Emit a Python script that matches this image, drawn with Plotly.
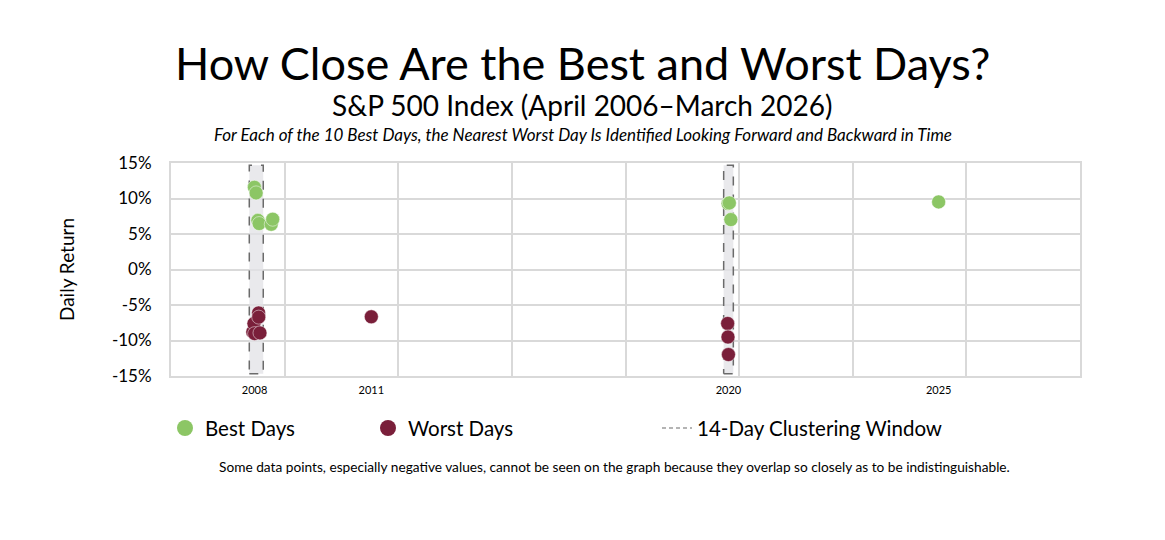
import plotly.graph_objects as go

# ---- data ----
best_dates = ["2008-10-13", "2008-10-28", "2008-11-13", "2008-11-24", "2009-03-10",
              "2009-03-23", "2020-03-13", "2020-03-24", "2020-04-06", "2025-04-09"]
best_returns = [11.58, 10.79, 6.92, 6.47, 6.37, 7.08, 9.29, 9.38, 7.03, 9.52]

worst_dates = ["2008-09-29", "2008-10-09", "2008-10-15", "2008-11-19", "2008-11-20",
               "2008-12-01", "2011-08-08", "2020-03-09", "2020-03-12", "2020-03-16"]
worst_returns = [-8.79, -7.62, -9.03, -6.12, -6.71, -8.93, -6.66, -7.60, -9.51, -11.98]

window_start = ["2008-08-29", "2020-02-03"]
window_end = ["2008-12-30", "2020-04-28"]
window_low = -14.7
window_high = 14.7

tick_dates = ["2008-10-15", "2011-08-08", "2020-03-16", "2025-04-09"]
tick_labels = ["2008", "2011", "2020", "2025"]

x_range = ["2006-10-10", "2028-09-04"]
y_ticks = [-15, -10, -5, 0, 5, 10, 15]
y_tick_labels = ["-15%", "-10%", "-5%", "0%", "5%", "10%", "15%"]

GREEN = "#8cc665"
MAROON = "#7a1f3a"
GRID = "#d9d9d9"
DASH = "#6b6b6b"
FONT = "Lato"

fig = go.Figure()

# clustering windows
for s, e in zip(window_start, window_end):
    fig.add_trace(go.Scatter(
        x=[s, e, e, s, s], y=[window_low, window_low, window_high, window_high, window_low],
        mode="lines", fill="toself", fillcolor="rgba(225,226,230,0.75)",
        line=dict(color=DASH, width=1.5, dash="dash"),
        showlegend=False, hoverinfo="skip"))

fig.add_trace(go.Scatter(
    x=best_dates, y=best_returns, mode="markers", name="Best Days", showlegend=False,
    marker=dict(color=GREEN, size=14, line=dict(color="rgba(255,255,255,0.6)", width=0.8))))
fig.add_trace(go.Scatter(
    x=worst_dates, y=worst_returns, mode="markers", name="Worst Days", showlegend=False,
    marker=dict(color=MAROON, size=14, line=dict(color="rgba(255,255,255,0.6)", width=0.8))))

# legend entries
fig.add_trace(go.Scatter(x=[None], y=[None], mode="markers", name="Best Days",
                         marker=dict(color=GREEN, size=22), legend="legend"))
fig.add_trace(go.Scatter(x=[None], y=[None], mode="markers", name="Worst Days",
                         marker=dict(color=MAROON, size=22), legend="legend2"))
fig.add_trace(go.Scatter(x=[None], y=[None], mode="lines", name="14-Day Clustering Window",
                         line=dict(color=DASH, width=1.2, dash="4px,3px"), legend="legend3"))

leg_common = dict(orientation="h", y=-0.245, yanchor="middle", xanchor="left",
                  font=dict(size=20.5, family=FONT, color="black"),
                  itemsizing="trace", bgcolor="rgba(0,0,0,0)")

fig.update_layout(
    width=1165, height=540,
    margin=dict(l=163, r=93, t=155, b=172),
    paper_bgcolor="white", plot_bgcolor="white",
    font=dict(family=FONT, color="black"),
    showlegend=True,
    legend=dict(x=(165 - 171) / 909, **leg_common),
    legend2=dict(x=(368 - 171) / 909, **leg_common),
    legend3=dict(x=(657 - 171) / 909, **leg_common),
)

fig.update_xaxes(
    type="date", range=x_range,
    tickvals=tick_dates, ticktext=tick_labels,
    showgrid=False, ticks="", ticklabelstandoff=3,
    tickfont=dict(size=11, family=FONT, color="black"),
    showline=True, linecolor=GRID, linewidth=2, mirror=True,
    minor=dict(showgrid=True, gridcolor=GRID, gridwidth=2,
               dtick=86400000 * 1000, tick0=x_range[0]),
    zeroline=False,
)
fig.update_yaxes(
    range=[-15, 15], tickvals=y_ticks, ticktext=y_tick_labels,
    tickfont=dict(size=17, family=FONT, color="black"),
    showgrid=True, gridcolor=GRID, gridwidth=2,
    zeroline=False, showline=True, linecolor=GRID, linewidth=2, mirror=True,
    ticklabelstandoff=14,
    title=dict(text="Daily Return", font=dict(size=19, family=FONT, color="black"), standoff=32),
)

cx = (582.5 - 171) / 909
fig.add_annotation(text="How Close Are the Best and Worst Days?", xref="paper", yref="paper",
                   x=cx, y=1.469, xanchor="center", yanchor="middle", showarrow=False,
                   font=dict(size=45, family=FONT, color="black"))
fig.add_annotation(text="S&P 500 Index (April 2006–March 2026)", xref="paper", yref="paper",
                   x=cx, y=1.272, xanchor="center", yanchor="middle", showarrow=False,
                   font=dict(size=28, family=FONT, color="black"))
fig.add_annotation(text="<i>For Each of the 10 Best Days, the Nearest Worst Day Is Identified Looking Forward and Backward in Time</i>",
                   xref="paper", yref="paper",
                   x=cx, y=1.136, xanchor="center", yanchor="middle", showarrow=False,
                   font=dict(size=17, family=FONT, color="black"))
fig.add_annotation(text="Some data points, especially negative values, cannot be seen on the graph because they overlap so closely as to be indistinguishable.",
                   xref="paper", yref="paper",
                   x=(614 - 171) / 909, y=-0.427, xanchor="center", yanchor="middle", showarrow=False,
                   font=dict(size=13.7, family=FONT, color="black"))

fig.write_html("out.html")
